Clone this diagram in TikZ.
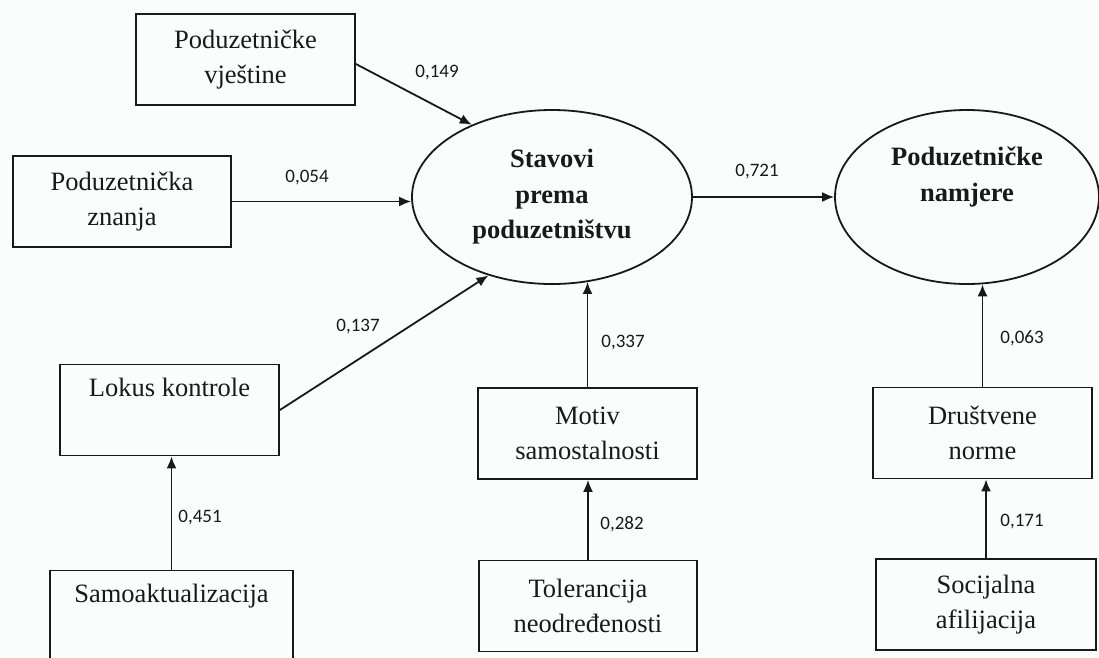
\documentclass[tikz,border=0pt]{standalone}
\usepackage{fontspec}
\setmainfont{Liberation Serif}
\newfontfamily\lblfont{Carlito}
\usetikzlibrary{shapes.geometric,arrows.meta,calc}
\definecolor{bg}{RGB}{251,253,253}
\definecolor{ink}{RGB}{25,25,25}
\begin{document}
\begin{tikzpicture}[x=1pt,y=-1pt,
  box/.style={draw=ink, line width=1.8pt, minimum width=219pt, minimum height=91pt, inner sep=0pt, align=center, text=ink, font=\fontsize{26.5}{35}\selectfont},
  oval/.style={draw=ink, ellipse, line width=1.8pt, inner sep=0pt, align=center, text=ink, font=\fontsize{26.5}{35.5}\selectfont\bfseries},
  arr/.style={draw=ink, line width=1.8pt, -{Latex[length=12pt,width=10pt]}},
  lbl/.style={text=ink, font=\lblfont\fontsize{19}{22}\selectfont, inner sep=0pt}]
\useasboundingbox[fill=bg] (0,0) rectangle (1099,657);

\node[box] (v) at (245.5,59.5) {Poduzetničke\\vještine};
\node[box, minimum width=218pt] (z) at (122,201.5) {Poduzetnička\\znanja};
\node[box] (l) at (169.5,410) {Lokus kontrole\\\strut};
\node[box, minimum width=243pt] (s) at (171.5,616) {Samoaktualizacija\\\strut};
\node[box] (m) at (587.5,433.5) {Motiv\\samostalnosti};
\node[box, minimum width=218pt] (t) at (588,606) {Tolerancija\\neodređenosti};
\node[box] (d) at (982.5,433) {Društvene\\norme};
\node[box, minimum width=220pt] (c) at (986,604.5) {Socijalna\\afilijacija};
\node[oval, minimum width=280pt, minimum height=174pt] (e1) at (552,197) {Stavovi\\prema\\poduzetništvu};
\node[oval, minimum width=264pt, minimum height=174pt] (e2) at (967,197) {Poduzetničke\\namjere\\\strut};

\draw[arr] ([yshift=-4.5pt]v.east) -- (e1.138);
\draw[arr] (z.east) -- (z.east -| e1.west);
\draw[arr] (l.east) -- (e1.231);
\draw[arr] (e1.east) -- (e2.west);
\draw[arr] (m.north) -- (m.north |- e1.293);
\draw[arr] (d.north) -- (d.north |- e2.280);
\draw[arr] (s.north) -- (s.north |- l.south);
\draw[arr] (t.north) -- (t.north |- m.south);
\draw[arr] (c.north) -- (c.north |- d.south);

\node[lbl] (L149) at (437,73) {0,149};
\node[lbl] (L054) at (307,178) {0,054};
\node[lbl] (L137) at (358,327) {0,137};
\node[lbl] (L721) at (757,172) {0,721};
\node[lbl] (L337) at (623,343) {0,337};
\node[lbl] (L063) at (1022,338) {0,063};
\node[lbl] (L451) at (200,518) {0,451};
\node[lbl] (L282) at (622,524) {0,282};
\node[lbl] (L171) at (1022,522) {0,171};
\end{tikzpicture}
\end{document}
